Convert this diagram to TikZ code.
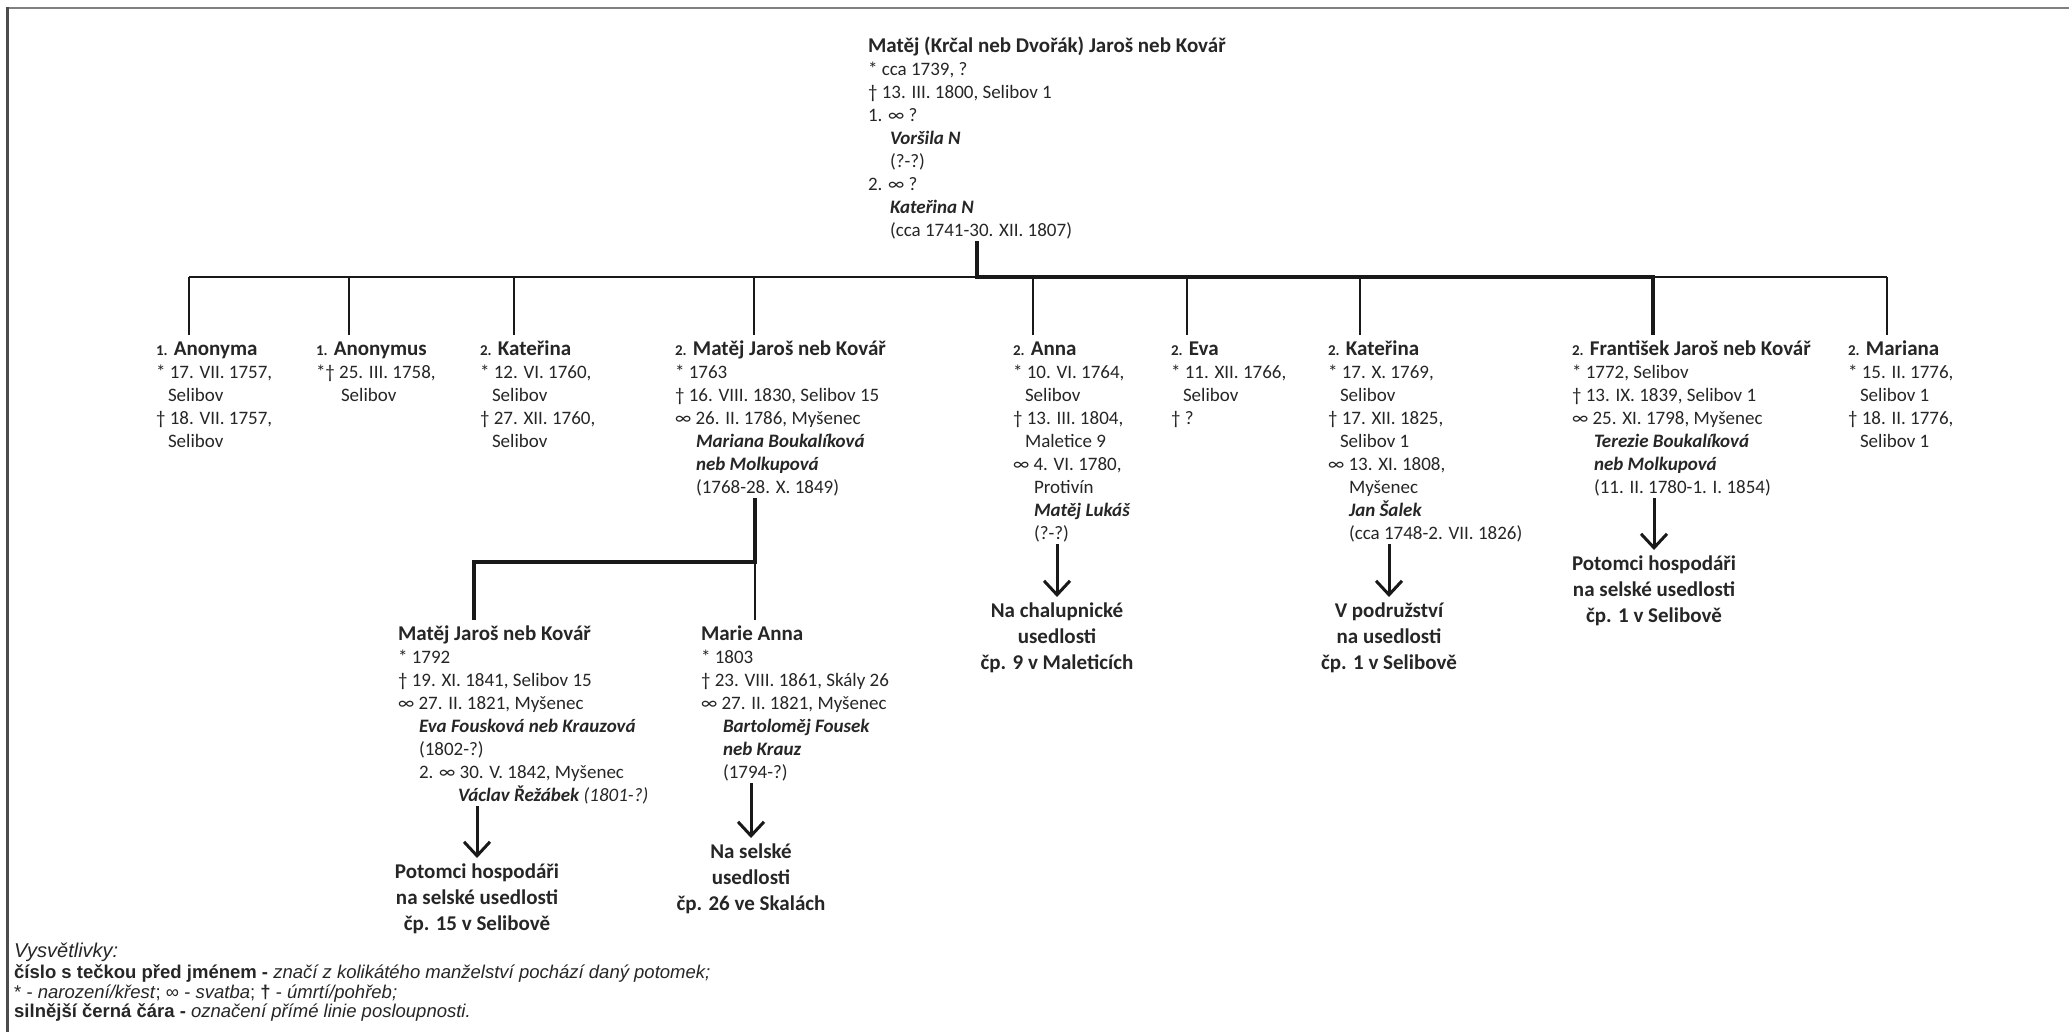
\documentclass[tikz,border=0pt]{standalone}
\usepackage{fontspec}
\setmainfont{Carlito}
\newfontfamily\legfont{Liberation Sans}
\usetikzlibrary{arrows.meta}
\newcommand\pset{\baselineskip=23bp\lineskiplimit=-200bp\lineskip=0bp\relax}
\newcommand\dset{\baselineskip=26bp\lineskiplimit=-200bp\lineskip=0bp\relax}
\newcommand\pname[1]{\hbox{\vrule width0bp height20bp depth5bp\relax\fontsize{21bp}{23bp}\selectfont\bfseries #1}}
\newcommand\nbr[1]{{\fontsize{15bp}{23bp}\selectfont #1}}
\newcommand\pline[2][0bp]{\hbox{\vrule width0bp height16bp depth5bp\relax\kern#1\relax #2}}
\newcommand\bix[1]{{\bfseries\itshape #1}}
\newcommand\dline[1]{\hbox to 0bp{\hss\vrule width0bp height20bp depth5bp\relax #1\hss}}
\begin{document}
\begin{tikzpicture}[x=1bp,y=-1bp,
  thinl/.style={line width=2bp, draw=black!90},
  thickl/.style={line width=4.5bp, draw=black!90, line join=miter},
  arr/.style={line width=3bp, draw=black!90, -{Straight Barb[length=14bp,width=26bp]}},
  person/.style={anchor=base west, inner sep=0pt, outer sep=0pt, font=\fontsize{19bp}{23bp}\selectfont, text=black!85},
  desc/.style={anchor=base, inner sep=0pt, outer sep=0pt, font=\fontsize{21bp}{26bp}\selectfont\bfseries, text=black!85},
  leg/.style={anchor=base west, inner sep=0pt, font=\legfont\fontsize{18.5bp}{20bp}\selectfont, text=black!85}]
\useasboundingbox (0,0) rectangle (2069,1032);
\fill[white] (0,0) rectangle (2069,1032);
% frame
\draw[line width=2bp, black!50] (6,8.3) -- (2069,8.3);
\draw[line width=2.5bp, black!70] (7.3,7.3) -- (7.3,1032);

% ancestor
\node[person] (anc) at (868,52) {\vtop{\pset
  \pname{Matěj (Krčal neb Dvořák) Jaroš neb Kovář}
  \pline{* cca 1739, ?}
  \pline{† 13. III. 1800, Selibov 1}
  \pline{1. ∞ ?}
  \pline[22bp]{\bix{Voršila N}}
  \pline[22bp]{(?-?)}
  \pline{2. ∞ ?}
  \pline[22bp]{\bix{Kateřina N}}
  \pline[22bp]{(cca 1741-30. XII. 1807)}}};

% children
\node[person] (p1) at (156,355) {\vtop{\pset
  \pname{\nbr{1.} Anonyma}
  \pline{* 17. VII. 1757,}
  \pline[12bp]{Selibov}
  \pline{† 18. VII. 1757,}
  \pline[12bp]{Selibov}}};
\node[person] (p2) at (316,355) {\vtop{\pset
  \pname{\nbr{1.} Anonymus}
  \pline{*† 25. III. 1758,}
  \pline[25bp]{Selibov}}};
\node[person] (p3) at (480,355) {\vtop{\pset
  \pname{\nbr{2.} Kateřina}
  \pline{* 12. VI. 1760,}
  \pline[12bp]{Selibov}
  \pline{† 27. XII. 1760,}
  \pline[12bp]{Selibov}}};
\node[person] (p4) at (675,355) {\vtop{\pset
  \pname{\nbr{2.} Matěj Jaroš neb Kovář}
  \pline{* 1763}
  \pline{† 16. VIII. 1830, Selibov 15}
  \pline{∞ 26. II. 1786, Myšenec}
  \pline[21bp]{\bix{Mariana Boukalíková}}
  \pline[21bp]{\bix{neb Molkupová}}
  \pline[21bp]{(1768-28. X. 1849)}}};
\node[person] (p5) at (1013,355) {\vtop{\pset
  \pname{\nbr{2.} Anna}
  \pline{* 10. VI. 1764,}
  \pline[12bp]{Selibov}
  \pline{† 13. III. 1804,}
  \pline[12bp]{Maletice 9}
  \pline{∞ 4. VI. 1780,}
  \pline[21bp]{Protivín}
  \pline[21bp]{\bix{Matěj Lukáš}}
  \pline[21bp]{(?-?)}}};
\node[person] (p6) at (1171,355) {\vtop{\pset
  \pname{\nbr{2.} Eva}
  \pline{* 11. XII. 1766,}
  \pline[12bp]{Selibov}
  \pline{† ?}}};
\node[person] (p7) at (1328,355) {\vtop{\pset
  \pname{\nbr{2.} Kateřina}
  \pline{* 17. X. 1769,}
  \pline[12bp]{Selibov}
  \pline{† 17. XII. 1825,}
  \pline[12bp]{Selibov 1}
  \pline{∞ 13. XI. 1808,}
  \pline[21bp]{Myšenec}
  \pline[21bp]{\bix{Jan Šalek}}
  \pline[21bp]{(cca 1748-2. VII. 1826)}}};
\node[person] (p8) at (1572,355) {\vtop{\pset
  \pname{\nbr{2.} František Jaroš neb Kovář}
  \pline{* 1772, Selibov}
  \pline{† 13. IX. 1839, Selibov 1}
  \pline{∞ 25. XI. 1798, Myšenec}
  \pline[22bp]{\bix{Terezie Boukalíková}}
  \pline[22bp]{\bix{neb Molkupová}}
  \pline[22bp]{(11. II. 1780-1. I. 1854)}}};
\node[person] (p9) at (1848,355) {\vtop{\pset
  \pname{\nbr{2.} Mariana}
  \pline{* 15. II. 1776,}
  \pline[12bp]{Selibov 1}
  \pline{† 18. II. 1776,}
  \pline[12bp]{Selibov 1}}};

% grandchildren
\node[person] (q1) at (398,640) {\vtop{\pset
  \pname{Matěj Jaroš neb Kovář}
  \pline{* 1792}
  \pline{† 19. XI. 1841, Selibov 15}
  \pline{∞ 27. II. 1821, Myšenec}
  \pline[21bp]{\bix{Eva Fousková neb Krauzová}}
  \pline[21bp]{(1802-?)}
  \pline[21bp]{2. ∞ 30. V. 1842, Myšenec}
  \pline[60bp]{\bix{Václav Řežábek} {\itshape (1801-?)}}}};
\node[person] (q2) at (701,640) {\vtop{\pset
  \pname{Marie Anna}
  \pline{* 1803}
  \pline{† 23. VIII. 1861, Skály 26}
  \pline{∞ 27. II. 1821, Myšenec}
  \pline[22bp]{\bix{Bartoloměj Fousek}}
  \pline[22bp]{\bix{neb Krauz}}
  \pline[22bp]{(1794-?)}}};

% descendant notes
\node[desc] (d1) at (477,878) {\vtop{\dset\dline{Potomci hospodáři}\dline{na selské usedlosti}\dline{čp. 15 v Selibově}}};
\node[desc] (d2) at (751,858) {\vtop{\dset\dline{Na selské}\dline{usedlosti}\dline{čp. 26 ve Skalách}}};
\node[desc] (d3) at (1057,617) {\vtop{\dset\dline{Na chalupnické}\dline{usedlosti}\dline{čp. 9 v Maleticích}}};
\node[desc] (d4) at (1389,617) {\vtop{\dset\dline{V podružství}\dline{na usedlosti}\dline{čp. 1 v Selibově}}};
\node[desc] (d5) at (1654,570) {\vtop{\dset\dline{Potomci hospodáři}\dline{na selské usedlosti}\dline{čp. 1 v Selibově}}};

% connectors
\coordinate (j0) at (977,277);
\coordinate (b1) at (189,277);
\coordinate (b2) at (349,277);
\coordinate (b3) at (514,277);
\coordinate (b4) at (754,277);
\coordinate (b5) at (1033,277);
\coordinate (b6) at (1187,277);
\coordinate (b7) at (1360,277);
\coordinate (b8) at (1653,277);
\coordinate (b9) at (1887,277);
\draw[thinl] (b1) -- (j0);
\draw[thinl] (b8) -- (b9);
\foreach \i in {1,2,3,4,5,6,7,9} \draw[thinl] (b\i) -- (b\i |- p\i.north);
\draw[thickl] (anc.south -| j0) -- (j0) -- (b8) -- (b8 |- p8.north);

\coordinate (m1) at (755,562);
\coordinate (m2) at (474,562);
\draw[thinl] (m1) -- (m1 |- q2.north);
\draw[thickl] (p4.south -| m1) -- (m1) -- (m2) -- (m2 |- q1.north);

\draw[arr] (d1.north |- q1.south) -- (d1.north);
\draw[arr] (d2.north |- q2.south) -- (d2.north);
\draw[arr] (d3.north |- p5.south) -- (d3.north);
\draw[arr] (d4.north |- p7.south) -- (d4.north);
\draw[arr] (d5.north |- p8.south) -- (d5.north);

% legend
\node[leg] (l0) at (14,957) {\fontsize{20bp}{20bp}\selectfont\itshape Vysvětlivky:};
\node[leg] (l1) at (14,978) {\textbf{číslo s tečkou před jménem -} \textit{značí z kolikátého manželství pochází daný potomek;}};
\node[leg] (l2) at (14,998) {* - \textit{narození/křest}; ∞ - \textit{svatba}; \textbf{†} - \textit{úmrtí/pohřeb;}};
\node[leg] (l3) at (14,1017) {\textbf{silnější černá čára -} \textit{označení přímé linie posloupnosti.}};
\end{tikzpicture}
\end{document}
